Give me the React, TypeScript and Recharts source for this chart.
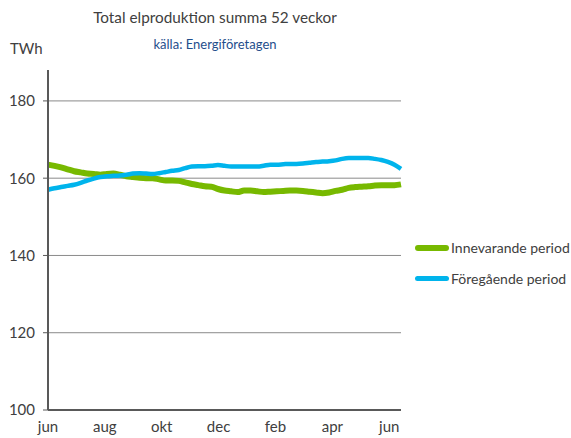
import React from 'react'
import { LineChart, Line, XAxis, YAxis, CartesianGrid } from 'recharts'

// ── Data ──────────────────────────────────────────────────────────────────────
// weekly rolling 52-week totals (TWh)

const WEEKS = Array.from({ length: 55 }, (_, i) => i)

const CURRENT = [
  163.5, 163.2, 162.8, 162.3, 161.8, 161.5, 161.2, 161.1, 160.9, 161.1,
  161.2, 160.9, 160.5, 160.3, 160.1, 160.0, 160.0, 159.7, 159.4, 159.4,
  159.3, 158.9, 158.5, 158.2, 157.9, 157.8, 157.2, 156.8, 156.6, 156.4,
  156.8, 156.8, 156.6, 156.4, 156.5, 156.6, 156.7, 156.8, 156.8, 156.7,
  156.5, 156.3, 156.1, 156.3, 156.7, 157.0, 157.5, 157.7, 157.8, 157.9,
  158.1, 158.2, 158.2, 158.2, 158.4,
]

const PREVIOUS = [
  157.0, 157.4, 157.7, 158.0, 158.3, 158.8, 159.4, 159.9, 160.3, 160.5,
  160.6, 160.7, 160.9, 161.2, 161.3, 161.2, 161.1, 161.3, 161.6, 161.9,
  162.1, 162.6, 163.0, 163.1, 163.1, 163.2, 163.4, 163.2, 163.0, 163.0,
  163.0, 163.0, 163.0, 163.2, 163.5, 163.5, 163.6, 163.7, 163.7, 163.8,
  164.0, 164.2, 164.3, 164.4, 164.6, 165.0, 165.2, 165.2, 165.2, 165.2,
  165.0, 164.7, 164.2, 163.5, 162.4,
]

const MONTH_TICKS = [0, 8.7, 17.4, 26.1, 34.8, 43.5, 52.2]
const MONTH_LABELS = ['jun', 'aug', 'okt', 'dec', 'feb', 'apr', 'jun']
const Y_TICKS = [100, 120, 140, 160, 180]

const SERIES_NAMES = ['Innevarande period', 'Föregående period']

// ── Style ─────────────────────────────────────────────────────────────────────

const GREEN = '#77B900'
const BLUE = '#00B4EC'
const TEXT = '#404040'
const FONT = 'Lato, "Open Sans", sans-serif'
const TICK_STYLE = { fontSize: 15, fill: TEXT, fontFamily: FONT }

const data = WEEKS.map((w, i) => ({ w, cur: CURRENT[i], prev: PREVIOUS[i] }))

function LegendRow({ color, label, top, thick }: { color: string; label: string; top: number; thick: number }) {
  return (
    <div style={{ position: 'absolute', left: 415, top, display: 'flex', alignItems: 'center', whiteSpace: 'nowrap' }}>
      <div style={{ width: 34, height: thick, background: color, borderRadius: thick / 2, flexShrink: 0 }} />
      <span style={{ marginLeft: 2, fontSize: 14, color: TEXT, fontFamily: FONT }}>{label}</span>
    </div>
  )
}

export default function App() {
  return (
    <div style={{ position: 'absolute', left: 0, top: 0, width: 571, height: 438, background: '#fff' }}>
      <div
        style={{
          position: 'absolute', left: 0, width: 430, top: 8, textAlign: 'center',
          fontSize: 15.3, color: TEXT, fontFamily: FONT,
        }}
      >
        Total elproduktion summa 52 veckor
      </div>
      <div
        style={{
          position: 'absolute', left: 0, width: 430, top: 36, textAlign: 'center',
          fontSize: 13, color: '#1F4E8C', fontFamily: FONT,
        }}
      >
        källa: Energiföretagen
      </div>
      <div style={{ position: 'absolute', left: 10, top: 39, fontSize: 15, color: TEXT, fontFamily: FONT }}>
        TWh
      </div>

      <LineChart width={571} height={438} data={data} margin={{ top: 70, right: 170, left: 8, bottom: 6 }}>
        <CartesianGrid horizontal vertical={false} stroke="#8A8A8A" horizontalValues={[120, 140, 160, 180]} />
        <XAxis
          dataKey="w"
          type="number"
          domain={[0, 54]}
          ticks={MONTH_TICKS}
          tickFormatter={(v) => MONTH_LABELS[MONTH_TICKS.indexOf(v)] ?? ''}
          tick={TICK_STYLE}
          tickLine={false}
          tickSize={0}
          tickMargin={11}
          height={22}
          axisLine={{ stroke: '#595959', strokeWidth: 2 }}
          interval={0}
        />
        <YAxis
          type="number"
          domain={[100, 188]}
          ticks={Y_TICKS}
          tick={TICK_STYLE}
          tickSize={5}
          tickMargin={8}
          tickLine={{ stroke: '#595959' }}
          axisLine={{ stroke: '#595959', strokeWidth: 2 }}
          width={40}
          allowDataOverflow
        />
        <Line
          dataKey="cur"
          name={SERIES_NAMES[0]}
          stroke={GREEN}
          strokeWidth={6}
          dot={false}
          type="monotone"
          isAnimationActive={false}
        />
        <Line
          dataKey="prev"
          name={SERIES_NAMES[1]}
          stroke={BLUE}
          strokeWidth={4.5}
          dot={false}
          type="monotone"
          isAnimationActive={false}
        />
      </LineChart>

      <LegendRow color={GREEN} label={SERIES_NAMES[0]} top={239} thick={6} />
      <LegendRow color={BLUE} label={SERIES_NAMES[1]} top={270} thick={5} />
    </div>
  )
}
